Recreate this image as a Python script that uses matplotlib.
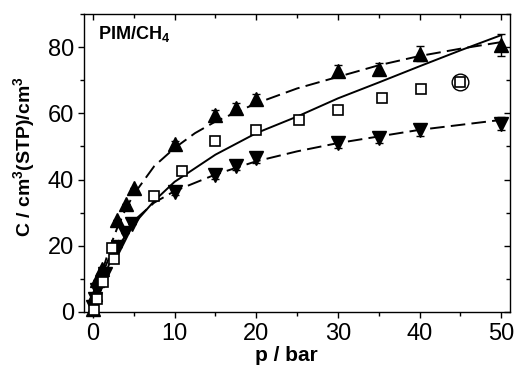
import matplotlib
matplotlib.use("Agg")
import matplotlib.pyplot as plt
from matplotlib.ticker import MultipleLocator

plt.rcParams['font.family'] = ['Liberation Sans', 'DejaVu Sans']
plt.rcParams['mathtext.fontset'] = 'custom'
plt.rcParams['mathtext.rm'] = 'Liberation Sans'
plt.rcParams['mathtext.bf'] = 'Liberation Sans:bold'

# upward triangles (filled)
up_p = [0.05, 0.2, 0.5, 1.1, 3.0, 4.1, 5.0, 10, 15, 17.5, 20, 30, 35, 40, 50]
up_c = [1.0, 5.5, 9.5, 13.0, 27.7, 32.7, 37.4, 50.6, 59.4, 61.7, 64.3, 72.8, 73.5, 78.0, 80.6]
up_err = [0, 0, 0, 0, 0, 0, 0, 1.0, 1.5, 1.5, 1.5, 1.8, 1.8, 2.2, 3.2]

# open squares
sq_p = [0.1, 0.5, 1.26, 2.3, 2.6, 7.5, 10.9, 15, 20, 25.2, 30, 35.4, 40.2, 45]
sq_c = [0.5, 4.0, 9.0, 19.3, 16.1, 35.0, 42.7, 51.7, 54.8, 57.9, 60.9, 64.6, 67.2, 69.5]

# downward triangles (filled)
dn_p = [0.05, 0.2, 0.5, 1.5, 3.1, 3.9, 4.8, 10, 15, 17.5, 20, 30, 35, 40, 50]
dn_c = [1.5, 4.0, 6.6, 11.6, 19.6, 23.7, 26.5, 36.2, 41.3, 44.1, 46.6, 50.9, 52.4, 54.9, 56.9]
dn_err = [0, 0, 0, 0, 0, 0, 0, 1.0, 1.2, 1.2, 1.5, 1.5, 1.5, 1.8, 2.0]

# fit curves
fu_p = [0, 0.5, 1, 2, 3, 4, 5, 7.5, 10, 12.5, 15, 20, 25, 30, 35, 40, 45, 50]
fu_c = [0, 6, 11, 19, 25.5, 31, 35.5, 44, 49.5, 54, 57.5, 63, 67.5, 71, 74.5, 77.3, 79.5, 81.5]
fs_p = [0, 0.5, 1, 2, 3, 5, 7.5, 10, 15, 20, 25, 30, 35, 40, 45, 50]
fs_c = [0, 4, 8, 14.5, 19.5, 26.5, 33.5, 39.3, 47.5, 54, 59, 64.5, 69.3, 74.2, 79, 83.6]
fd_p = [0, 0.5, 1, 2, 3, 5, 7.5, 10, 15, 20, 25, 30, 35, 40, 45, 50]
fd_c = [0, 6, 10.5, 16.5, 21, 27.5, 33, 36.5, 41.5, 45.5, 48.5, 51, 53, 55, 56.5, 58]

circ_p = [45]
circ_c = [69.5]

fig = plt.figure(figsize=(5.18, 3.67), dpi=100)
ax = fig.add_axes([0.162, 0.150, 0.823, 0.812])

dash = (0, (7.5, 3.2))
ax.plot(fu_p, fu_c, color='black', lw=1.4, linestyle=dash, zorder=2)
ax.plot(fs_p, fs_c, color='black', lw=1.4, linestyle='-', zorder=2)
ax.plot(fd_p, fd_c, color='black', lw=1.4, linestyle=dash, zorder=2)

ax.errorbar(up_p, up_c, yerr=up_err, fmt='^', color='black', ms=10.5,
            ecolor='black', elinewidth=1, capsize=3, capthick=1, zorder=3, clip_on=False)
ax.errorbar(dn_p, dn_c, yerr=dn_err, fmt='v', color='black', ms=10.5,
            ecolor='black', elinewidth=1, capsize=3, capthick=1, zorder=3, clip_on=False)
ax.plot(sq_p, sq_c, 's', mfc='white', mec='black', mew=1.2, ms=7, zorder=4, clip_on=False)
ax.plot(circ_p, circ_c, 'o', mfc='none', mec='black', mew=1.0, ms=12, zorder=4)

ax.set_xlim(-1.1, 51.1)
ax.set_ylim(0, 90)
ax.xaxis.set_major_locator(MultipleLocator(10))
ax.xaxis.set_minor_locator(MultipleLocator(5))
ax.yaxis.set_major_locator(MultipleLocator(20))
ax.yaxis.set_minor_locator(MultipleLocator(10))
ax.tick_params(axis='both', which='major', direction='out', length=4, width=1,
               labelsize=17)
ax.tick_params(axis='x', which='major', pad=4)
ax.tick_params(axis='y', which='major', pad=3)
ax.tick_params(axis='both', which='minor', direction='out', length=3, width=1)
ax.tick_params(top=True, right=True, which='both')
# top/right ticks inward
for t in ax.xaxis.get_major_ticks() + ax.xaxis.get_minor_ticks():
    t.tick2line.set_marker(3)
for t in ax.yaxis.get_major_ticks() + ax.yaxis.get_minor_ticks():
    t.tick2line.set_marker(0)
ax.tick_params(axis='x', which='both', labeltop=False)
ax.tick_params(axis='y', which='both', labelright=False)
for s in ax.spines.values():
    s.set_linewidth(1.0)

ax.set_xlabel('p / bar', fontsize=15, fontweight='bold')
ax.xaxis.set_label_coords(0.475, -0.115)
ax.set_ylabel(r'C / cm$^{\mathbf{3}}$(STP)/cm$^{\mathbf{3}}$', fontsize=14,
              fontweight='bold')
ax.yaxis.set_label_coords(-0.107, 0.52)
ax.text(0.032, 0.965, r'PIM/CH$_{\mathbf{4}}$', transform=ax.transAxes, fontsize=13,
        fontweight='bold', va='top', ha='left')

fig.savefig('out.png', dpi=100)
